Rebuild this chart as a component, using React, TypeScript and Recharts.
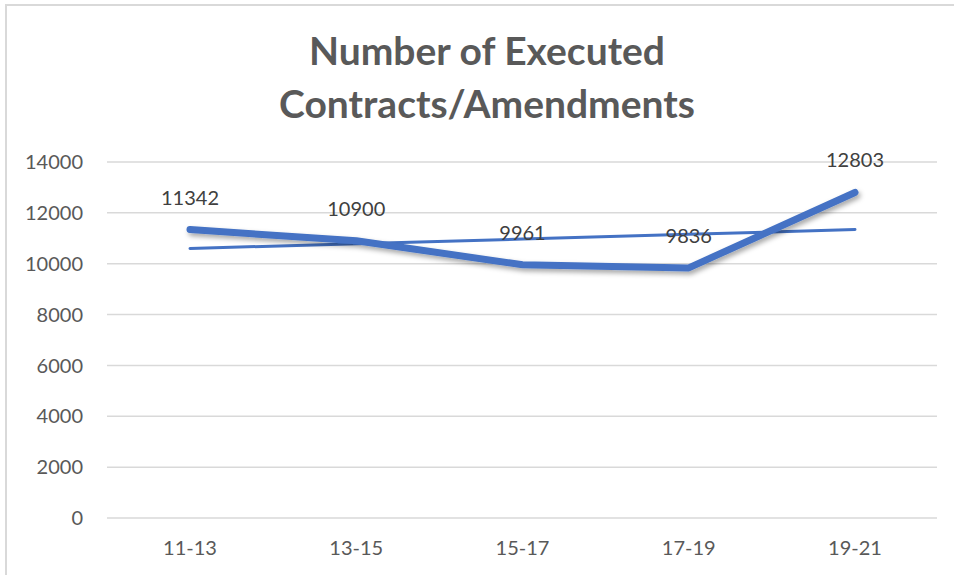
import { ComposedChart, Line, XAxis, YAxis, CartesianGrid, LabelList } from "recharts";

const periods = ["11-13", "13-15", "15-17", "17-19", "19-21"];
const executed = [11342, 10900, 9961, 9836, 12803];
// linear trendline as drawn by the spreadsheet
const trend = [10600, 10785, 10968, 11155, 11345];
const yTicks = [0, 2000, 4000, 6000, 8000, 10000, 12000, 14000];
const titleLines = ["Number of Executed", "Contracts/Amendments"];

const BLUE = "#4472C4";
const GRID = "#D9D9D9";
const INK = "#595959";
const FONT = "Lato, 'Open Sans', sans-serif";

const data = periods.map((p, i) => ({ period: p, executed: executed[i], trend: trend[i] }));

// value label sitting above each point
function PointLabel(props: any): JSX.Element {
  const { x, y, value } = props;
  return (
    <text x={x} y={y - 25} textAnchor="middle" fill="#404040" fontSize={20} fontFamily={FONT}>
      {value}
    </text>
  );
}

export default function App(): JSX.Element {
  return (
    <div style={{ position: "absolute", left: 0, top: 0, width: 954, height: 575, overflow: "hidden", background: "#fff" }}>
      <div style={{ position: "absolute", left: 5, top: 4, width: 980, height: 620, border: `2px solid ${GRID}`, boxSizing: "border-box" }} />
      {titleLines.map((t, i) => (
        <div
          key={t}
          style={{
            position: "absolute",
            left: 0,
            width: 974,
            top: 25 + i * 53,
            textAlign: "center",
            fontFamily: FONT,
            fontWeight: 700,
            fontSize: 39,
            lineHeight: "50px",
            color: INK,
          }}
        >
          {t}
        </div>
      ))}
      <div style={{ position: "absolute", left: 0, top: 0 }}>
        <ComposedChart width={954} height={575} data={data} margin={{ top: 162, right: 17, left: 0, bottom: 0 }}>
          <defs>
            <filter id="line-shadow" x="-10%" y="-50%" width="120%" height="200%">
              <feDropShadow dx="2" dy="3" stdDeviation="2.5" floodColor="#000" floodOpacity="0.35" />
            </filter>
          </defs>
          <CartesianGrid stroke={GRID} strokeWidth={1.5} vertical={false} />
          <XAxis
            dataKey="period"
            height={57}
            padding={{ left: 83, right: 82 }}
            tickLine={false}
            axisLine={false}
            tickSize={0}
            tickMargin={23}
            tick={{ fontSize: 20, fill: INK, fontFamily: FONT }}
          />
          <YAxis
            domain={[0, 14000]}
            ticks={yTicks}
            width={107}
            tickLine={false}
            axisLine={false}
            tickSize={0}
            tickMargin={24}
            tick={{ fontSize: 20, fill: INK, fontFamily: FONT }}
          />
          <Line
            dataKey="trend"
            stroke={BLUE}
            strokeWidth={3}
            strokeLinecap="round"
            dot={false}
            activeDot={false}
            isAnimationActive={false}
          />
          <Line
            dataKey="executed"
            stroke={BLUE}
            strokeWidth={7}
            strokeLinecap="round"
            strokeLinejoin="round"
            filter="url(#line-shadow)"
            dot={false}
            activeDot={false}
            isAnimationActive={false}
          >
            <LabelList dataKey="executed" content={PointLabel} />
          </Line>
        </ComposedChart>
      </div>
    </div>
  );
}
